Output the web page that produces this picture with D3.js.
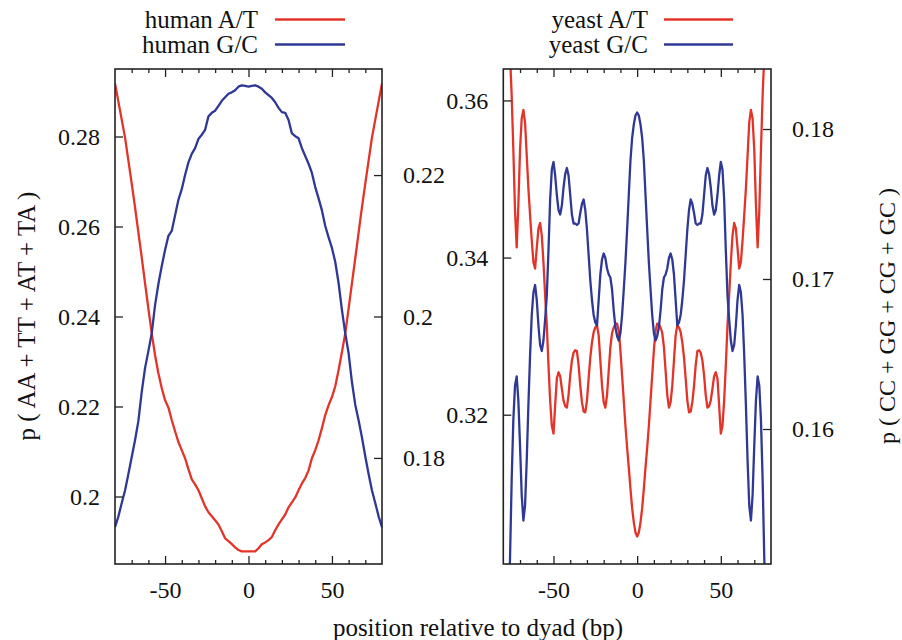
<!DOCTYPE html>
<html>
<head>
<meta charset="utf-8">
<script src="https://cdn.jsdelivr.net/npm/d3@7"></script>
<style>
  html, body { margin: 0; padding: 0; background: #fff; }
  text { font-family: "Liberation Serif", "DejaVu Serif", serif; fill: #111; }
</style>
</head>
<body>
<script>
// ---- data: dinucleotide probabilities around the nucleosome dyad ----
// human: positions -80..80 every 2 bp
const humanPos = d3.range(-80, 81, 2);
const humanAT = [0.2918, 0.2878, 0.2838, 0.2798, 0.2747, 0.2696, 0.2643, 0.2587, 0.2532, 0.2474,
  0.2418, 0.2363, 0.2314, 0.2274, 0.2241, 0.2214, 0.2198, 0.2170, 0.2145, 0.2121,
  0.2103, 0.2085, 0.2061, 0.2038, 0.2027, 0.2014, 0.1996, 0.1978, 0.1965, 0.1956,
  0.1947, 0.1938, 0.1923, 0.1907, 0.1901, 0.1894, 0.1887, 0.1881, 0.1878, 0.1878,
  0.1878,
  0.1878, 0.1878, 0.1885, 0.1894, 0.1898, 0.1903, 0.1910, 0.1925, 0.1938, 0.1949,
  0.1960, 0.1976, 0.1987, 0.1998, 0.2014, 0.2029, 0.2041, 0.2058, 0.2085, 0.2103,
  0.2125, 0.2152, 0.2181, 0.2203, 0.2221, 0.2245, 0.2281, 0.2321, 0.2363, 0.2418,
  0.2474, 0.2530, 0.2587, 0.2643, 0.2696, 0.2747, 0.2798, 0.2838, 0.2878, 0.2918];
const humanGC = [0.1702, 0.1717, 0.1736, 0.1754, 0.1777, 0.1801, 0.1825, 0.1852, 0.1893, 0.1927,
  0.1951, 0.1976, 0.2016, 0.2046, 0.2071, 0.2094, 0.2114, 0.2121, 0.2143, 0.2165,
  0.2180, 0.2200, 0.2218, 0.2230, 0.2238, 0.2251, 0.2257, 0.2264, 0.2283, 0.2288,
  0.2291, 0.2298, 0.2305, 0.2310, 0.2315, 0.2317, 0.2320, 0.2325, 0.2327, 0.2326,
  0.2325,
  0.2326, 0.2327, 0.2325, 0.2322, 0.2317, 0.2313, 0.2309, 0.2303, 0.2295, 0.2289,
  0.2288, 0.2278, 0.2259, 0.2255, 0.2252, 0.2238, 0.2227, 0.2216, 0.2203, 0.2183,
  0.2167, 0.2150, 0.2128, 0.2112, 0.2097, 0.2077, 0.2047, 0.2009, 0.1976, 0.1948,
  0.1907, 0.1875, 0.1853, 0.1829, 0.1802, 0.1777, 0.1754, 0.1736, 0.1717, 0.1702];

// yeast: positions -80..80 every 1 bp
const yeastPos = d3.range(-80, 81, 1);
const yeastAT = [0.3804, 0.3766, 0.3728, 0.3690, 0.3658, 0.3607, 0.3537, 0.3460, 0.3413, 0.3467,
  0.3537, 0.3577, 0.3588, 0.3572, 0.3530, 0.3488, 0.3454, 0.3422, 0.3394, 0.3386,
  0.3412, 0.3437, 0.3444, 0.3428, 0.3394, 0.3352, 0.3314, 0.3263, 0.3218, 0.3186,
  0.3176, 0.3212, 0.3246, 0.3254, 0.3249, 0.3233, 0.3218, 0.3211, 0.3209, 0.3225,
  0.3250, 0.3269, 0.3279, 0.3282, 0.3281, 0.3263, 0.3237, 0.3216, 0.3204, 0.3203,
  0.3218, 0.3246, 0.3273, 0.3292, 0.3305, 0.3311, 0.3314, 0.3301, 0.3269, 0.3237,
  0.3216, 0.3209, 0.3225, 0.3256, 0.3286, 0.3304, 0.3311, 0.3315, 0.3316, 0.3307,
  0.3282, 0.3250, 0.3218, 0.3186, 0.3158, 0.3133, 0.3106, 0.3081, 0.3063, 0.3050,
  0.3045,
  0.3050, 0.3063, 0.3081, 0.3106, 0.3133, 0.3158, 0.3186, 0.3218, 0.3250, 0.3282,
  0.3307, 0.3316, 0.3315, 0.3311, 0.3304, 0.3286, 0.3256, 0.3225, 0.3209, 0.3216,
  0.3237, 0.3269, 0.3301, 0.3314, 0.3311, 0.3305, 0.3292, 0.3273, 0.3246, 0.3218,
  0.3203, 0.3204, 0.3216, 0.3237, 0.3263, 0.3281, 0.3282, 0.3279, 0.3269, 0.3250,
  0.3225, 0.3209, 0.3211, 0.3218, 0.3233, 0.3249, 0.3254, 0.3246, 0.3212, 0.3176,
  0.3186, 0.3218, 0.3263, 0.3314, 0.3352, 0.3394, 0.3428, 0.3444, 0.3437, 0.3412,
  0.3386, 0.3394, 0.3422, 0.3454, 0.3488, 0.3530, 0.3572, 0.3588, 0.3577, 0.3537,
  0.3467, 0.3413, 0.3460, 0.3537, 0.3607, 0.3658, 0.3690, 0.3728, 0.3766, 0.3804];
const yeastGC = [0.1446, 0.1453, 0.1466, 0.1486, 0.1513, 0.1566, 0.1606, 0.1629, 0.1635, 0.1619,
  0.1589, 0.1556, 0.1539, 0.1549, 0.1579, 0.1616, 0.1649, 0.1676, 0.1691, 0.1696,
  0.1686, 0.1669, 0.1656, 0.1652, 0.1659, 0.1673, 0.1689, 0.1719, 0.1753, 0.1773,
  0.1778, 0.1769, 0.1756, 0.1746, 0.1743, 0.1749, 0.1761, 0.1770, 0.1774, 0.1769,
  0.1756, 0.1743, 0.1737, 0.1737, 0.1736, 0.1737, 0.1744, 0.1750, 0.1753, 0.1746,
  0.1733, 0.1716, 0.1699, 0.1686, 0.1676, 0.1671, 0.1669, 0.1686, 0.1703, 0.1713,
  0.1717, 0.1714, 0.1707, 0.1703, 0.1701, 0.1693, 0.1679, 0.1668, 0.1662, 0.1659,
  0.1664, 0.1676, 0.1693, 0.1711, 0.1733, 0.1756, 0.1779, 0.1794, 0.1803, 0.1809,
  0.1811,
  0.1809, 0.1803, 0.1794, 0.1779, 0.1756, 0.1733, 0.1711, 0.1693, 0.1676, 0.1664,
  0.1659, 0.1662, 0.1668, 0.1679, 0.1693, 0.1701, 0.1703, 0.1707, 0.1714, 0.1717,
  0.1713, 0.1703, 0.1686, 0.1669, 0.1671, 0.1676, 0.1686, 0.1699, 0.1716, 0.1733,
  0.1746, 0.1753, 0.1750, 0.1744, 0.1737, 0.1736, 0.1737, 0.1737, 0.1743, 0.1756,
  0.1769, 0.1774, 0.1770, 0.1761, 0.1749, 0.1743, 0.1746, 0.1756, 0.1769, 0.1778,
  0.1773, 0.1753, 0.1719, 0.1689, 0.1673, 0.1659, 0.1652, 0.1656, 0.1669, 0.1686,
  0.1696, 0.1691, 0.1676, 0.1649, 0.1616, 0.1579, 0.1549, 0.1539, 0.1556, 0.1589,
  0.1619, 0.1635, 0.1629, 0.1606, 0.1566, 0.1513, 0.1486, 0.1466, 0.1453, 0.1446];

// axis ticks
const xMajorTicks = [-50, 0, 50];
const xMinorTicks = [-70, -60, -40, -30, -20, -10, 10, 20, 30, 40, 60, 70];
const humanLeftTicks = [0.2, 0.22, 0.24, 0.26, 0.28];
const humanRightTicks = [0.18, 0.2, 0.22];
const yeastLeftTicks = [0.32, 0.34, 0.36];
const yeastRightTicks = [0.16, 0.17, 0.18];

const seriesNames = {
  human: ["human A/T", "human G/C"],
  yeast: ["yeast A/T", "yeast G/C"]
};
const RED = "#e3342a";
const BLUE = "#2f3895";

// ---- drawing ----
const W = 902, H = 640;
const plotTop = 69, plotBottom = 564;
const svg = d3.select("body").append("svg").attr("width", W).attr("height", H);
const defs = svg.append("defs");

function drawPanel(opt) {
  const x = d3.scaleLinear().domain([-80, 80]).range([opt.x0, opt.x1]);
  const yL = d3.scaleLinear().domain(opt.leftDomain).range([plotBottom, plotTop]);
  const yR = d3.scaleLinear().domain(opt.rightDomain).range([plotBottom, plotTop]);

  const g = svg.append("g");
  const clipId = "clip-" + opt.id;
  defs.append("clipPath").attr("id", clipId)
    .append("rect").attr("x", opt.x0).attr("y", plotTop)
    .attr("width", opt.x1 - opt.x0).attr("height", plotBottom - plotTop);

  const lineL = d3.line().x((d, i) => x(opt.pos[i])).y(d => yL(d));
  const lineR = d3.line().x((d, i) => x(opt.pos[i])).y(d => yR(d));

  const plot = g.append("g").attr("clip-path", `url(#${clipId})`);
  plot.append("path").datum(opt.at).attr("d", lineL)
    .attr("fill", "none").attr("stroke", RED).attr("stroke-width", 2.3)
    .attr("stroke-linejoin", "round");
  plot.append("path").datum(opt.gc).attr("d", lineR)
    .attr("fill", "none").attr("stroke", BLUE).attr("stroke-width", 2.3)
    .attr("stroke-linejoin", "round");

  // axes with inward ticks
  const styleAxis = sel => {
    sel.select(".domain").remove();
    sel.selectAll(".tick line").attr("stroke", "#222").attr("stroke-width", 1.3);
    sel.selectAll(".tick text").attr("font-size", 24)
      .attr("font-family", "'Liberation Serif', serif").attr("fill", "#111");
  };
  g.append("g").attr("transform", `translate(0,${plotBottom})`)
    .call(d3.axisBottom(x).tickValues(xMajorTicks).tickSize(-8).tickPadding(17)
      .tickFormat(d => String(d)))
    .call(styleAxis);
  g.append("g").attr("transform", `translate(0,${plotBottom})`)
    .call(d3.axisBottom(x).tickValues(xMinorTicks).tickSize(-4).tickFormat(""))
    .call(styleAxis);
  g.append("g").attr("transform", `translate(0,${plotTop})`)
    .call(d3.axisTop(x).tickValues(xMajorTicks).tickSize(-8).tickFormat(""))
    .call(styleAxis);
  g.append("g").attr("transform", `translate(0,${plotTop})`)
    .call(d3.axisTop(x).tickValues(xMinorTicks).tickSize(-4).tickFormat(""))
    .call(styleAxis);
  g.append("g").attr("transform", `translate(${opt.x0},0)`)
    .call(d3.axisLeft(yL).tickValues(opt.leftTicks).tickSize(-8).tickPadding(15)
      .tickFormat(d => String(d)))
    .call(styleAxis);
  g.append("g").attr("transform", `translate(${opt.x1},0)`)
    .call(d3.axisRight(yR).tickValues(opt.rightTicks).tickSize(-8).tickPadding(21)
      .tickFormat(d => String(d)))
    .call(styleAxis);

  // frame
  g.append("rect").attr("x", opt.x0).attr("y", plotTop)
    .attr("width", opt.x1 - opt.x0).attr("height", plotBottom - plotTop)
    .attr("fill", "none").attr("stroke", "#222").attr("stroke-width", 1.6);

  // legend
  const leg = g.append("g");
  opt.names.forEach((name, i) => {
    const yy = 19.5 + i * 25;
    leg.append("text").attr("x", opt.legendTextX).attr("y", yy)
      .attr("dy", "0.33em").attr("text-anchor", "end").attr("font-size", 25)
      .text(name);
    leg.append("line").attr("x1", opt.legendLine[0]).attr("x2", opt.legendLine[1])
      .attr("y1", yy).attr("y2", yy)
      .attr("stroke", i === 0 ? RED : BLUE).attr("stroke-width", 2.3);
  });
}

drawPanel({
  id: "human", x0: 115, x1: 382, pos: humanPos, at: humanAT, gc: humanGC,
  leftDomain: [0.185, 0.295], rightDomain: [0.165, 0.235],
  leftTicks: humanLeftTicks, rightTicks: humanRightTicks,
  names: seriesNames.human, legendTextX: 258, legendLine: [275, 345]
});
drawPanel({
  id: "yeast", x0: 503.3, x1: 771, pos: yeastPos, at: yeastAT, gc: yeastGC,
  leftDomain: [0.301, 0.364], rightDomain: [0.151, 0.184],
  leftTicks: yeastLeftTicks, rightTicks: yeastRightTicks,
  names: seriesNames.yeast, legendTextX: 648, legendLine: [664, 733]
});

// axis titles
svg.append("text").attr("transform", "translate(27,316) rotate(-90)")
  .attr("text-anchor", "middle").attr("dy", "0.33em").attr("font-size", 25)
  .text("p ( AA + TT + AT + TA )");
svg.append("text").attr("transform", "translate(887,316) rotate(-90)")
  .attr("text-anchor", "middle").attr("dy", "0.33em").attr("font-size", 24)
  .text("p ( CC + GG + CG + GC )");
svg.append("text").attr("x", 478).attr("y", 636)
  .attr("text-anchor", "middle").attr("font-size", 25)
  .text("position relative to dyad (bp)");
</script>
</body>
</html>
